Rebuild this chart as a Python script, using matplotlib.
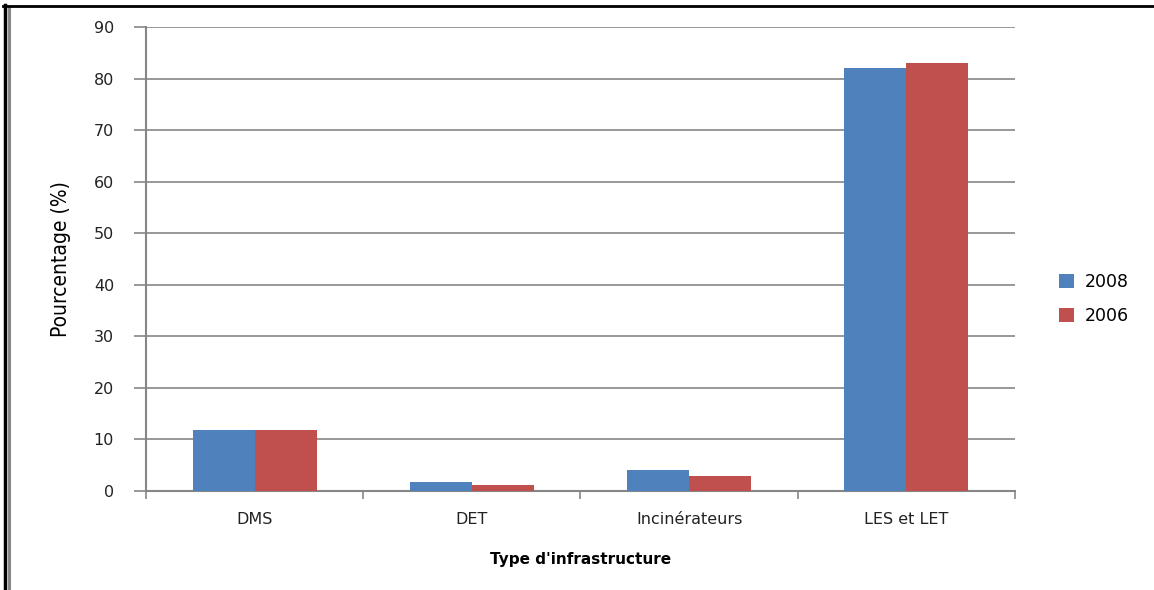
import matplotlib
matplotlib.use("Agg")
import matplotlib.pyplot as plt
from matplotlib.lines import Line2D
import numpy as np

categories = ["DMS", "DET", "Incinérateurs", "LES et LET"]
series_names = ["2008", "2006"]
values_2008 = [11.8, 1.7, 4.1, 82.0]
values_2006 = [11.8, 1.2, 2.9, 83.0]
y_ticks = [0, 10, 20, 30, 40, 50, 60, 70, 80, 90]

blue = "#4F81BD"
red = "#C0504D"
grid_grey = "#868686"
text_col = "#222222"

fig = plt.figure(figsize=(11.54, 5.90), dpi=100)
ax = fig.add_axes([146 / 1154, 1 - 491 / 590, (1015 - 146) / 1154, (491 - 27) / 590])

x = np.arange(len(categories))
width = 1 / 3.5
ax.bar(x - width / 2, values_2008, width, color=blue, label=series_names[0], zorder=3)
ax.bar(x + width / 2, values_2006, width, color=red, label=series_names[1], zorder=3)

ax.set_xlim(-0.5, len(categories) - 0.5)
ax.set_ylim(0, 90)
ax.set_yticks(y_ticks)
ax.set_yticklabels([str(v) for v in y_ticks], fontsize=11.5, family="DejaVu Sans",
                   color=text_col)
ax.set_xticks(x)
ax.set_xticklabels(categories, fontsize=11.5, family="DejaVu Sans", color=text_col)
ax.set_xticks(np.arange(len(categories) + 1) - 0.5, minor=True)
ax.tick_params(axis="x", which="major", length=0, pad=15)
ax.tick_params(axis="x", which="minor", length=6, width=1.2, color=grid_grey, direction="out")
ax.tick_params(axis="y", length=9, width=1.2, color=grid_grey, direction="out", pad=14)

ax.yaxis.grid(True, color=grid_grey, linewidth=1.2, zorder=0)
ax.set_axisbelow(True)
for side in ["top", "right"]:
    ax.spines[side].set_visible(False)
for side in ["left", "bottom"]:
    ax.spines[side].set_color(grid_grey)
    ax.spines[side].set_linewidth(1.5)

ax.set_xlabel("Type d'infrastructure", fontsize=11, fontweight="bold",
              family="DejaVu Sans", labelpad=18)
ax.set_ylabel("Pourcentage (%)", fontsize=15, family="DejaVu Sans",
              fontstretch="condensed", labelpad=16)

leg = fig.legend(loc="center left", bbox_to_anchor=(1043 / 1154, 1 - 299 / 590),
                 frameon=False, fontsize=12.5, handlelength=0.9, handleheight=0.9,
                 labelspacing=0.95, handletextpad=0.6)

# page frame lines
fig.add_artist(Line2D([4.5 / 1154, 4.5 / 1154], [0, 1 - 5 / 590], color="black", linewidth=2.5))
fig.add_artist(Line2D([8.5 / 1154, 8.5 / 1154], [0, 1 - 7 / 590], color="#888888", linewidth=2.2))
fig.add_artist(Line2D([3 / 1154, 1], [1 - 6 / 590, 1 - 6 / 590], color="black", linewidth=2.0))

fig.savefig("out.png", dpi=100)
